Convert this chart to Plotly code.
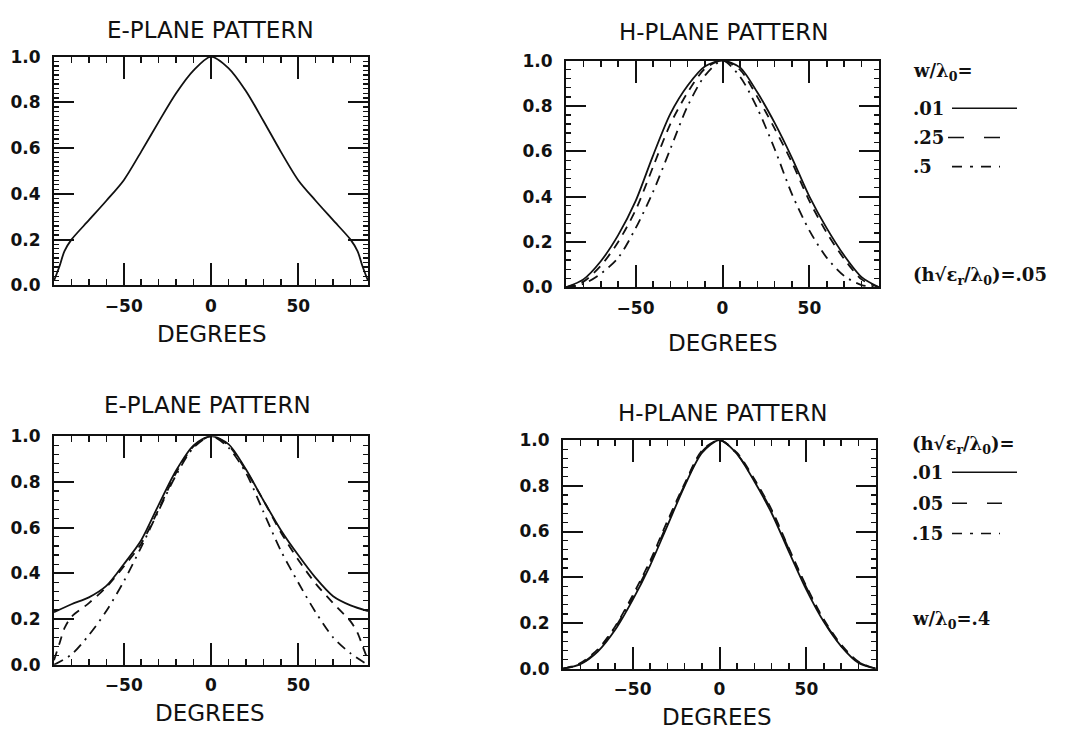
import plotly.graph_objects as go

W, H = 1072, 741

# ---------------- data ----------------
deg19 = [-90, -80, -70, -60, -50, -40, -30, -20, -10, 0, 10, 20, 30, 40, 50, 60, 70, 80, 90]
deg23 = [-90, -87, -84, -80, -70, -60, -50, -40, -30, -20, -10, 0, 10, 20, 30, 40, 50, 60, 70, 80, 84, 87, 90]

# Top-left: E-plane, single curve
e_top = [0.02, 0.08, 0.15, 0.20, 0.285, 0.37, 0.46, 0.585, 0.715, 0.84, 0.94, 1.0,
         0.95, 0.85, 0.72, 0.585, 0.46, 0.37, 0.285, 0.20, 0.15, 0.08, 0.02]

# Top-right: H-plane, w/lambda0 = .01, .25, .5
h_top_01 = [0.0, 0.035, 0.115, 0.23, 0.38, 0.58, 0.765, 0.89, 0.975, 1.0,
            0.97, 0.86, 0.725, 0.57, 0.40, 0.26, 0.14, 0.045, 0.0]
h_top_25 = [0.0, 0.025, 0.095, 0.20, 0.34, 0.53, 0.72, 0.86, 0.965, 1.0,
            0.96, 0.84, 0.70, 0.55, 0.38, 0.24, 0.125, 0.035, 0.0]
h_top_5 = [0.0, 0.015, 0.06, 0.13, 0.26, 0.42, 0.61, 0.80, 0.935, 1.0,
           0.93, 0.79, 0.61, 0.41, 0.25, 0.13, 0.05, 0.01, 0.0]

# Bottom-left: E-plane, h*sqrt(er)/lambda0 = .01, .05, .15
e_bot_01 = [0.23, 0.265, 0.295, 0.345, 0.44, 0.545, 0.70, 0.85, 0.96, 1.0,
            0.965, 0.855, 0.72, 0.59, 0.48, 0.38, 0.30, 0.26, 0.235]
e_bot_05 = [0.02, 0.09, 0.16, 0.21, 0.27, 0.34, 0.43, 0.53, 0.68, 0.84, 0.955, 1.0,
            0.96, 0.85, 0.72, 0.58, 0.46, 0.355, 0.27, 0.19, 0.14, 0.08, 0.02]
e_bot_15 = [0.0, 0.045, 0.13, 0.235, 0.365, 0.515, 0.675, 0.83, 0.95, 1.0,
            0.95, 0.84, 0.67, 0.50, 0.36, 0.23, 0.12, 0.05, 0.0]

# Bottom-right: H-plane, h*sqrt(er)/lambda0 = .01, .05, .15
h_bot_01 = [0.0, 0.02, 0.075, 0.17, 0.30, 0.45, 0.625, 0.80, 0.945, 1.0,
            0.94, 0.82, 0.68, 0.51, 0.345, 0.205, 0.098, 0.025, 0.0]
h_bot_05 = [0.0, 0.025, 0.085, 0.185, 0.32, 0.47, 0.645, 0.81, 0.955, 1.0,
            0.945, 0.83, 0.695, 0.525, 0.36, 0.215, 0.105, 0.03, 0.0]
h_bot_15 = [0.0, 0.02, 0.08, 0.18, 0.31, 0.46, 0.635, 0.805, 0.95, 1.0,
            0.94, 0.825, 0.69, 0.52, 0.355, 0.21, 0.10, 0.028, 0.0]

x_ticks = [-50, 0, 50]
y_ticks = [0.0, 0.2, 0.4, 0.6, 0.8, 1.0]
y_ticktext = ["0.0", "0.2", "0.4", "0.6", "0.8", "1.0"]

titles = ["E-PLANE PATTERN", "H-PLANE PATTERN", "E-PLANE PATTERN", "H-PLANE PATTERN"]

# ---------------- layout helpers ----------------
def fx(p):
    return p / W

def fy(p):
    return 1 - p / H

INK = "#111111"
TICKFONT = dict(family="DejaVu Sans", size=17, color=INK, weight="bold")
TITLEFONT = dict(family="DejaVu Sans", size=23, color=INK)
SERIF = dict(family="DejaVu Serif", size=18, color=INK, weight="bold")

DASH = "9px,7px"
DASHDOT = "10px,6px,2px,6px"

# plot boxes in pixels: (left, right, top, bottom)
boxes = [(54, 368, 48, 283), (566, 879, 52, 285), (54, 368, 438, 673), (563, 876, 442, 677)]
ydt_minor = [0.02, 0.04, 0.04, 0.04]

fig = go.Figure()

def add(idx, x, y, dash):
    fig.add_trace(go.Scatter(
        x=x, y=y, mode="lines",
        line=dict(color=INK, width=1.8, dash=dash, shape="spline", smoothing=0.8),
        xaxis="x" if idx == 0 else f"x{idx+1}",
        yaxis="y" if idx == 0 else f"y{idx+1}",
        showlegend=False, hoverinfo="skip"))

add(0, deg23, e_top, "solid")
add(1, deg19, h_top_01, "solid")
add(1, deg19, h_top_25, DASH)
add(1, deg19, h_top_5, DASHDOT)
add(2, deg19, e_bot_01, "solid")
add(2, deg23, e_bot_05, DASH)
add(2, deg19, e_bot_15, DASHDOT)
add(3, deg19, h_bot_01, "solid")
add(3, deg19, h_bot_05, DASH)
add(3, deg19, h_bot_15, DASHDOT)

layout = dict(
    width=W, height=H, autosize=False,
    margin=dict(l=0, r=0, t=0, b=0),
    paper_bgcolor="white", plot_bgcolor="white",
    showlegend=False,
)

for i, (l, r, t, b) in enumerate(boxes):
    sx = "" if i == 0 else str(i + 1)
    layout["xaxis" + sx] = dict(
        domain=[fx(l), fx(r)], anchor="y" + sx, range=[-90, 90],
        tickmode="array", tickvals=x_ticks,
        ticks="inside", ticklen=22, tickwidth=2, tickcolor=INK,
        showline=True, linecolor=INK, linewidth=2, mirror="allticks",
        showgrid=False, zeroline=False, tickfont=TICKFONT, ticklabelstandoff=4,
        minor=dict(tickmode="linear", tick0=0, dtick=10, ticks="inside", ticklen=6,
                   tickwidth=1.5, tickcolor=INK, showgrid=False),
        fixedrange=True,
    )
    layout["yaxis" + sx] = dict(
        domain=[fy(b), fy(t)], anchor="x" + sx, range=[0, 1],
        tickmode="array", tickvals=y_ticks, ticktext=y_ticktext,
        ticks="inside", ticklen=20, tickwidth=2, tickcolor=INK,
        showline=True, linecolor=INK, linewidth=2, mirror="allticks",
        showgrid=False, zeroline=False, tickfont=TICKFONT, ticklabelstandoff=8,
        minor=dict(tickmode="linear", tick0=0, dtick=ydt_minor[i], ticks="inside", ticklen=5,
                   tickwidth=1.3, tickcolor=INK, showgrid=False),
        fixedrange=True,
    )

fig.update_layout(**layout)

annotations = []

def text(x, y, s, font, xanchor="center"):
    annotations.append(dict(x=fx(x), y=fy(y), xref="paper", yref="paper", text=s,
                            showarrow=False, font=font, xanchor=xanchor, yanchor="middle"))

# subplot titles and x-axis titles
title_pos = [(210, 21), (723, 23), (207, 406), (722, 414)]
deg_pos = [(212, 333), (723, 342), (210, 722), (717, 727)]
for i in range(4):
    text(title_pos[i][0], title_pos[i][1], titles[i], TITLEFONT)
    text(deg_pos[i][0], deg_pos[i][1], "DEGREES", TITLEFONT)

# legend texts (top)
text(911, 64, "w/λ<sub>0</sub>=", SERIF, "left")
text(911, 101, ".01", SERIF, "left")
text(911, 131, ".25", SERIF, "left")
text(911, 161, ".5", SERIF, "left")
text(911, 273, "(h√ε<sub>r</sub>/λ<sub>0</sub>)=.05", SERIF, "left")
# legend texts (bottom)
text(910, 447, "(h√ε<sub>r</sub>/λ<sub>0</sub>)=", SERIF, "left")
text(910, 475, ".01", SERIF, "left")
text(910, 507, ".05", SERIF, "left")
text(910, 538, ".15", SERIF, "left")
text(910, 627, "w/λ<sub>0</sub>=.4", SERIF, "left")

fig.update_layout(annotations=annotations)

shapes = []

def sample(x0, x1, y, dash):
    shapes.append(dict(type="line", xref="paper", yref="paper",
                       x0=fx(x0), x1=fx(x1), y0=fy(y), y1=fy(y),
                       line=dict(color=INK, width=1.6, dash=dash)))

sample(952, 1017, 101, "solid")
sample(948, 1003, 131, "16px,20px")
sample(952, 1000, 161, "10px,8px,3px,8px")
sample(952, 1017, 475, "solid")
sample(952, 1003, 507, "15px,20px")
sample(952, 1000, 538, "10px,8px,3px,8px")

fig.update_layout(shapes=shapes)

fig.write_html(
    "out.html",
    config={"displayModeBar": False, "staticPlot": True},
    post_script="document.body.style.margin='0';document.body.style.overflow='hidden';",
)
